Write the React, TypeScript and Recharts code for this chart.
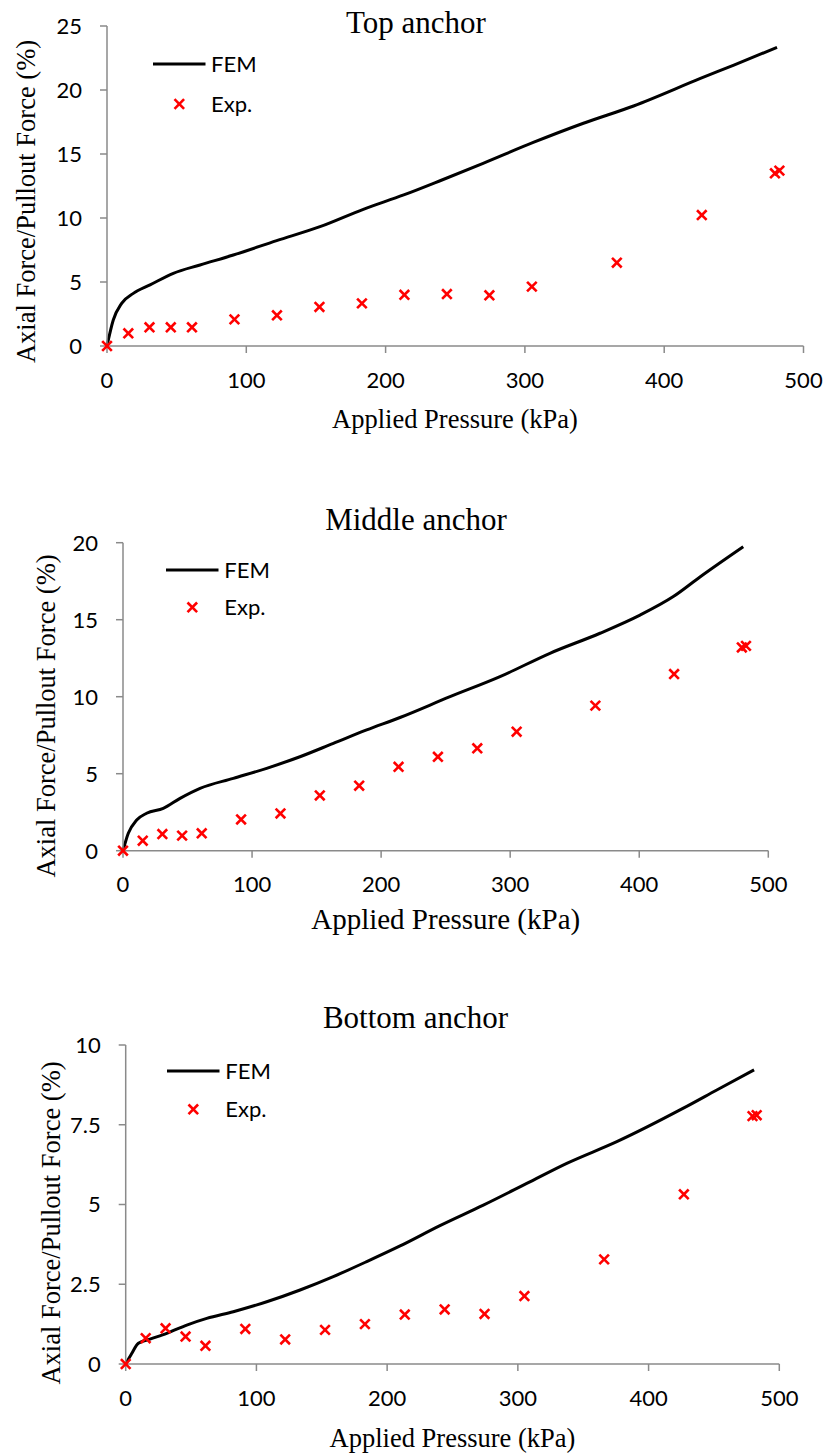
import React from "react";
import { ComposedChart, Line, Scatter, XAxis, YAxis, Legend, Label } from "recharts";

// experimental loading steps (kPa), shared by the three anchors
const expPressure = [0, 15.3, 30.5, 45.8, 61, 91.5, 122, 152.5, 183, 213.5, 244, 274.5, 305, 366, 427, 479.5, 482.7];
const topExp = [0, 0.99, 1.46, 1.46, 1.46, 2.08, 2.4, 3.05, 3.33, 4.0, 4.06, 3.96, 4.64, 6.51, 10.23, 13.49, 13.7];
const middleExp = [0, 0.65, 1.08, 0.98, 1.13, 2.03, 2.42, 3.59, 4.22, 5.45, 6.1, 6.65, 7.73, 9.42, 11.47, 13.2, 13.3];
const bottomExp = [0, 0.81, 1.12, 0.86, 0.57, 1.1, 0.77, 1.07, 1.25, 1.55, 1.71, 1.57, 2.13, 3.28, 5.32, 7.77, 7.8];

// FEM curves
const topFemPressure = [0, 4.5, 10.5, 18.9, 30.9, 47.6, 66.8, 90.7, 121.8, 152.9, 184, 213, 240, 270, 306, 342, 378, 426, 450, 481];
const topFem = [0, 2.03, 3.33, 4.11, 4.77, 5.68, 6.33, 7.11, 8.23, 9.32, 10.68, 11.8, 12.95, 14.27, 15.9, 17.4, 18.75, 20.9, 21.95, 23.33];
const middleFemPressure = [0, 4.1, 10.6, 18.3, 31.2, 44.2, 59.7, 85.5, 111.3, 137.1, 163, 188.8, 214.6, 253.4, 292.1, 330.8, 369.6, 400.6, 426.4, 447.3, 480.6];
const middleFem = [0, 1.13, 1.99, 2.43, 2.75, 3.4, 4.05, 4.7, 5.35, 6.1, 6.97, 7.84, 8.65, 10.0, 11.3, 12.82, 14.12, 15.3, 16.5, 17.79, 19.74];
const bottomFemPressure = [0, 4.6, 9.7, 18.6, 31.4, 46.7, 62, 82.3, 107.9, 133.4, 158.8, 184.4, 209.9, 240, 273.6, 306.8, 337.4, 375.7, 426.6, 452.2, 480.7];
const bottomFem = [0, 0.33, 0.65, 0.78, 0.96, 1.22, 1.43, 1.64, 1.95, 2.32, 2.74, 3.21, 3.7, 4.33, 4.98, 5.66, 6.29, 6.97, 8.02, 8.59, 9.22];

const pressureTicks = [0, 100, 200, 300, 400, 500];
const topTicks = [0, 5, 10, 15, 20, 25];
const middleTicks = [0, 5, 10, 15, 20];
const bottomTicks = [0, 2.5, 5, 7.5, 10];

const zip = (xs: number[], ys: number[]) => xs.map((x, i) => ({ x, y: ys[i] }));

const axisColor = "#8a8a8a";
const sans = "Lato, 'Open Sans', sans-serif";
const serif = "'Liberation Serif', 'Times New Roman', serif";
const tickStyle = { fill: "#000", fontSize: 22, fontFamily: sans };

const Cross = (props: any) => {
  const { cx, cy } = props;
  const r = 4.8;
  return (
    <g>
      <line x1={cx - r} y1={cy - r} x2={cx + r} y2={cy + r} stroke="#ff0000" strokeWidth={2.6} />
      <line x1={cx - r} y1={cy + r} x2={cx + r} y2={cy - r} stroke="#ff0000" strokeWidth={2.6} />
    </g>
  );
};

const textAt = (x: number, y: number, size: number, family: string, rotate = false) => (props: any) => (
  <text
    x={x}
    y={y}
    textAnchor="middle"
    fontSize={size}
    fontFamily={family}
    fill="#000"
    transform={rotate ? `rotate(-90 ${x} ${y})` : undefined}
  >
    {props.value}
  </text>
);

interface PanelCfg {
  title: string;
  top: number;
  height: number;
  margin: { top: number; right: number; bottom: number; left: number };
  yMax: number;
  yTicks: number[];
  fem: { x: number; y: number }[];
  exp: { x: number; y: number }[];
  titlePos: [number, number];
  yTitlePos: [number, number];
  xTitlePos: [number, number, number];
  legend: { left: number; top: number; gap: number; textX: number };
}

const panels: PanelCfg[] = [
  {
    title: "Top anchor",
    top: 0,
    height: 470,
    margin: { top: 26, right: 24.5, bottom: 84, left: 47 },
    yMax: 25,
    yTicks: topTicks,
    fem: zip(topFemPressure, topFem),
    exp: zip(expPressure, topExp),
    titlePos: [416, 33.3],
    yTitlePos: [35, 201.5],
    xTitlePos: [455, 428, 26.5],
    legend: { left: 153, top: 44, gap: 40, textX: 58 },
  },
  {
    title: "Middle anchor",
    top: 480,
    height: 470,
    margin: { top: 62.7, right: 59.7, bottom: 59.3, left: 63 },
    yMax: 20,
    yTicks: middleTicks,
    fem: zip(middleFemPressure, middleFem),
    exp: zip(expPressure, middleExp),
    titlePos: [416, 50],
    yTitlePos: [55, 236],
    xTitlePos: [445.7, 449, 29],
    legend: { left: 165.7, top: 70, gap: 37.3, textX: 58.3 },
  },
  {
    title: "Bottom anchor",
    top: 980,
    height: 476,
    margin: { top: 65, right: 48.7, bottom: 52, left: 65.7 },
    yMax: 10,
    yTicks: bottomTicks,
    fem: zip(bottomFemPressure, bottomFem),
    exp: zip(expPressure, bottomExp),
    titlePos: [415.5, 48.3],
    yTitlePos: [59.5, 243],
    xTitlePos: [452.5, 466.5, 26.5],
    legend: { left: 166.7, top: 71, gap: 38.3, textX: 58.3 },
  },
];

function LegendBox({ gap, textX }: { gap: number; textX: number }) {
  return (
    <svg width={150} height={gap + 40} style={{ display: "block", overflow: "visible" }}>
      <line x1={0} y1={20} x2={52.5} y2={20} stroke="#000" strokeWidth={3} />
      <text x={textX} y={28} fontSize={22} fontFamily={sans} fill="#000">FEM</text>
      <Cross cx={26.3} cy={20 + gap} />
      <text x={textX} y={28 + gap} fontSize={22} fontFamily={sans} fill="#000">Exp.</text>
    </svg>
  );
}

function Panel({ p }: { p: PanelCfg }) {
  return (
    <div style={{ position: "absolute", left: 0, top: p.top, width: 828, height: p.height }}>
      <ComposedChart width={828} height={p.height} margin={p.margin}>
        <XAxis
          type="number"
          dataKey="x"
          domain={[0, 500]}
          ticks={pressureTicks}
          interval={0}
          height={40}
          tickSize={7}
          tickMargin={19}
          axisLine={{ stroke: axisColor, strokeWidth: 1.5 }}
          tickLine={{ stroke: axisColor, strokeWidth: 1.5 }}
          tick={tickStyle}
        >
          <Label value="Applied Pressure (kPa)" content={textAt(p.xTitlePos[0], p.xTitlePos[1], p.xTitlePos[2], serif)} />
          <Label value={p.title} content={textAt(p.titlePos[0], p.titlePos[1], 31, serif)} />
        </XAxis>
        <YAxis
          type="number"
          domain={[0, p.yMax]}
          ticks={p.yTicks}
          interval={0}
          width={60}
          tickSize={7}
          tickMargin={18}
          axisLine={{ stroke: axisColor, strokeWidth: 1.5 }}
          tickLine={{ stroke: axisColor, strokeWidth: 1.5 }}
          tick={tickStyle}
        >
          <Label
            value="Axial Force/Pullout Force (%)"
            content={textAt(p.yTitlePos[0], p.yTitlePos[1], 26.5, serif, true)}
          />
        </YAxis>
        <Legend
          layout="vertical"
          align="center"
          verticalAlign="middle"
          wrapperStyle={{ left: p.legend.left, top: p.legend.top, width: 150, height: p.legend.gap + 40 }}
          content={() => <LegendBox gap={p.legend.gap} textX={p.legend.textX} />}
        />
        <Line
          data={p.fem}
          dataKey="y"
          name="FEM"
          type="monotone"
          stroke="#000"
          strokeWidth={3}
          dot={false}
          activeDot={false}
          isAnimationActive={false}
        />
        <Scatter data={p.exp} dataKey="y" name="Exp." fill="#ff0000" shape={Cross} isAnimationActive={false} />
      </ComposedChart>
    </div>
  );
}

export default function App() {
  return (
    <div style={{ position: "absolute", left: 0, top: 0, width: 828, height: 1456, background: "#fff" }}>
      {panels.map((p) => (
        <Panel key={p.title} p={p} />
      ))}
    </div>
  );
}
